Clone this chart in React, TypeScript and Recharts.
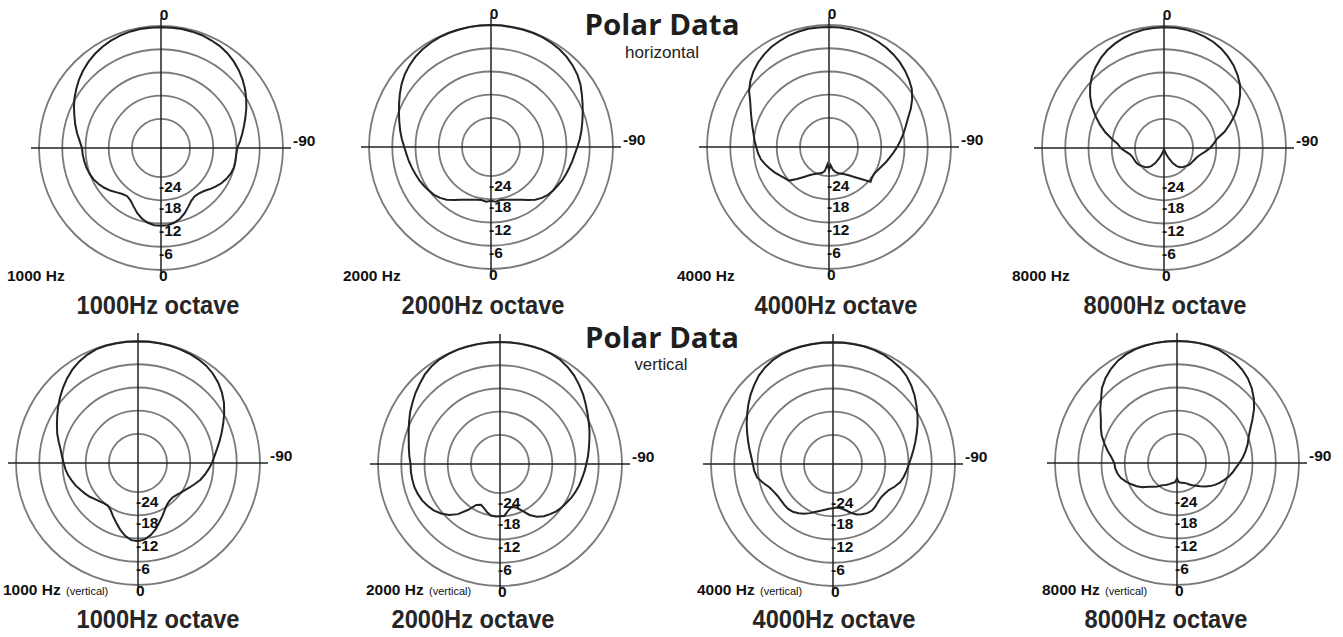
import { RadarChart, Radar, PolarGrid, PolarAngleAxis, PolarRadiusAxis } from "recharts";

// angle categories, clockwise from the top: right half negative, left half positive
const ANGLES = [
  0, -5, -10, -15, -20, -25, -30, -35, -40, -45, -50, -55, -60, -65, -70, -75, -80, -85,
  -90, -95, -100, -105, -110, -115, -120, -125, -130, -135, -140, -145, -150, -155, -160,
  -165, -170, -175, -180, 175, 170, 165, 160, 155, 150, 145, 140, 135, 130, 125, 120, 115,
  110, 105, 100, 95, 90, 85, 80, 75, 70, 65, 60, 55, 50, 45, 40, 35, 30, 25, 20, 15, 10, 5,
];

// level in dB for each angle above
const H1000 = [
  -0.3, -0.3, -0.3, -0.4, -0.5, -0.8, -1.1, -1.6, -2.3, -3.1, -4.0, -5.0,
  -6.1, -7.2, -8.3, -9.3, -10.2, -11.0, -11.8, -12.0, -12.0, -12.0, -12.3, -12.8,
  -13.4, -14.2, -15.0, -15.8, -16.2, -16.3, -15.8, -14.8, -13.6, -12.6, -11.9, -11.5,
  -11.4, -11.5, -11.9, -12.6, -13.6, -14.8, -15.8, -16.3, -16.0, -15.3, -14.4, -13.6,
  -12.9, -12.3, -11.9, -11.6, -11.4, -11.2, -11.1, -10.4, -9.5, -8.6, -7.7, -6.7,
  -5.7, -4.8, -3.9, -3.1, -2.4, -1.8, -1.3, -0.9, -0.6, -0.4, -0.3, -0.3,
];
const H2000 = [
  0, 0, -0.1, -0.1, -0.1, -0.2, -0.4, -0.7, -1.1, -1.7, -2.4, -3.3,
  -4.4, -5.4, -6.3, -7.1, -7.8, -8.5, -9.2, -9.8, -10.2, -10.6, -10.9, -11.2,
  -11.6, -11.9, -12.3, -12.9, -13.7, -14.8, -15.8, -16.5, -17.0, -17.4, -17.6, -17.3,
  -17.6, -17.3, -17.6, -17.4, -17.0, -16.5, -15.8, -14.8, -13.7, -12.9, -12.3, -11.9,
  -11.5, -11.1, -10.8, -10.4, -10.0, -9.6, -9.1, -8.4, -7.7, -7.0, -6.2, -5.3,
  -4.3, -3.3, -2.4, -1.7, -1.1, -0.7, -0.4, -0.2, -0.1, -0.1, 0, 0,
];
const H4000 = [
  -0.5, -0.5, -0.6, -0.8, -1.1, -1.5, -1.9, -2.4, -3.0, -3.7, -4.5, -5.4,
  -6.7, -8.2, -9.8, -11.0, -12.0, -13.0, -13.9, -14.8, -15.6, -16.3, -17.0, -17.5,
  -17.9, -17.9, -17.5, -19.8, -21.4, -22.6, -23.4, -23.9, -24.3, -24.8, -25.5, -26.8,
  -25.5, -27.0, -25.2, -24.6, -24.3, -23.9, -23.4, -22.6, -21.4, -19.8, -18.0, -17.5,
  -16.8, -16.0, -15.2, -14.4, -13.6, -13.1, -12.7, -12.2, -11.7, -11.0, -10.2, -9.2,
  -8.0, -6.3, -5.0, -3.9, -3.0, -2.3, -1.7, -1.3, -0.9, -0.7, -0.5, -0.5,
];
const H8000 = [
  -0.3, -0.3, -0.4, -0.6, -0.9, -1.3, -1.9, -2.7, -3.6, -4.7, -5.9, -7.5,
  -9.3, -11.3, -13.4, -15.3, -17.6, -18.6, -19.6, -20.8, -21.9, -22.6, -23.0, -23.3,
  -23.5, -23.8, -24.2, -24.6, -25.0, -25.8, -27.0, -28.6, -29.8, -30.5, -31.0, -31.2,
  -31.4, -31.2, -31.0, -30.5, -29.8, -28.6, -27.0, -25.8, -25.0, -24.6, -24.2, -23.8,
  -23.5, -23.3, -23.2, -23.0, -22.5, -21.5, -20.3, -19.5, -17.8, -15.8, -13.9, -12.0,
  -10.0, -8.2, -6.6, -5.2, -4.1, -3.1, -2.3, -1.7, -1.2, -0.8, -0.5, -0.4,
];
const V1000 = [
  -0.1, -0.1, -0.1, -0.1, -0.2, -0.3, -0.5, -0.8, -1.4, -2.2, -3.2, -4.4,
  -5.8, -7.2, -8.5, -9.7, -10.8, -11.7, -12.4, -13.2, -14.0, -14.8, -15.8, -16.7,
  -17.5, -18.1, -18.6, -18.9, -18.8, -18.4, -17.6, -16.5, -15.3, -13.8, -12.6, -11.7,
  -11.3, -11.5, -12.4, -13.7, -15.1, -16.3, -17.4, -18.0, -17.9, -17.5, -17.0, -16.3,
  -15.7, -15.1, -14.4, -13.8, -13.2, -12.7, -12.3, -11.8, -11.2, -10.3, -9.3, -8.4,
  -7.4, -6.3, -5.2, -4.1, -3.0, -2.0, -1.2, -0.6, -0.2, -0.1, -0.1, -0.1,
];
const V2000 = [
  0, 0, 0, 0, 0, -0.1, -0.4, -1.0, -1.7, -2.6, -3.5, -4.5,
  -5.4, -6.2, -6.9, -7.6, -8.2, -8.7, -9.2, -9.6, -10.0, -10.3, -10.7, -11.1,
  -11.6, -12.0, -12.5, -13.2, -13.9, -14.9, -16.3, -18.3, -19.6, -20.0, -19.3, -18.1,
  -18.0, -17.9, -18.0, -18.6, -19.4, -19.9, -19.3, -17.0, -14.6, -12.9, -11.6, -10.6,
  -9.9, -9.3, -8.9, -8.6, -8.5, -8.4, -8.4, -8.0, -7.6, -7.1, -6.4, -5.6,
  -4.7, -3.9, -3.0, -2.2, -1.3, -0.7, -0.3, -0.1, 0, 0, 0, 0,
];
const V4000 = [
  -0.1, -0.1, -0.1, -0.1, -0.2, -0.4, -0.8, -1.2, -1.9, -2.9, -4.0, -5.2,
  -6.3, -7.4, -8.5, -9.5, -10.4, -11.2, -11.9, -12.4, -12.9, -13.5, -14.5, -15.6,
  -16.1, -16.4, -16.3, -16.0, -15.8, -16.0, -16.5, -17.1, -18.1, -19.2, -19.9, -20.2,
  -20.1, -19.9, -19.5, -19.0, -18.4, -17.5, -16.7, -16.0, -15.4, -15.1, -15.1, -15.1,
  -15.0, -14.6, -14.0, -12.8, -11.6, -11.1, -10.8, -10.3, -9.6, -8.8, -7.9, -6.9,
  -5.9, -4.8, -3.7, -2.7, -1.7, -1.0, -0.5, -0.2, -0.1, -0.1, -0.1, -0.1,
];
const V8000 = [
  0, 0, 0, -0.1, -0.3, -0.8, -1.4, -2.1, -3.0, -4.2, -5.6, -7.2,
  -9.0, -10.6, -11.8, -12.6, -13.5, -14.4, -15.4, -16.3, -17.0, -17.7, -18.6, -19.4,
  -20.2, -21.1, -22.1, -23.0, -23.8, -24.5, -25.1, -25.7, -26.0, -26.2, -26.3, -26.6,
  -27.5, -26.6, -26.3, -26.1, -25.7, -25.3, -24.9, -24.4, -23.6, -22.8, -22.0, -20.6,
  -19.5, -18.5, -17.5, -16.5, -15.9, -15.5, -15.3, -14.5, -13.3, -12.1, -10.8, -9.8,
  -8.8, -7.3, -5.9, -4.1, -2.8, -1.8, -1.0, -0.5, -0.2, -0.1, 0, 0,
];

const RING_TICKS = [-24, -18, -12, -6, 0];
const FREQ_LABELS = ["1000 Hz", "2000 Hz", "4000 Hz", "8000 Hz"];
const OCTAVE_LABELS = ["1000Hz octave", "2000Hz octave", "4000Hz octave", "8000Hz octave"];

// radius axis runs past 0 dB so the crosshair sticks out beyond the outer ring
const DB_MIN = -31.5;
const DB_MAX = 2.07;

const FONT = "'Liberation Sans', Arial, Helvetica, sans-serif";
const W = 340;
const H = 300;

const TOP_ROW = [
  { values: H1000, cx: 161, cy: 148, freqX: 7, octaveX: 158 },
  { values: H2000, cx: 491, cy: 147, freqX: 343, octaveX: 483 },
  { values: H4000, cx: 829, cy: 147, freqX: 677, octaveX: 836 },
  { values: H8000, cx: 1164, cy: 148, freqX: 1012, octaveX: 1165 },
];
const BOTTOM_ROW = [
  { values: V1000, cx: 138, cy: 463, freqX: 3, octaveX: 158 },
  { values: V2000, cx: 500, cy: 464, freqX: 366, octaveX: 473 },
  { values: V4000, cx: 833, cy: 464, freqX: 697, octaveX: 834 },
  { values: V8000, cx: 1177, cy: 463, freqX: 1042, octaveX: 1166 },
];

const labelStyle = { fontFamily: FONT, fontWeight: 700, fontSize: 15.5, fill: "#111" };

function angleTick(showTopZero: boolean) {
  return (props: any) => {
    const { x, y, payload } = props;
    if (payload.value === 0 && showTopZero) {
      return (
        <text x={x + 3} y={y + 10} textAnchor="middle" {...labelStyle}>
          0
        </text>
      );
    }
    if (payload.value === -90) {
      return (
        <text x={x - 6} y={y - 2} textAnchor="start" {...labelStyle}>
          -90
        </text>
      );
    }
    return <g />;
  };
}

function radiusTick(props: any) {
  const { x, y, payload } = props;
  const dy = payload.value === -24 ? 15 : payload.value === 0 ? 11 : 12.5;
  return (
    <text x={x - 2} y={y + dy} textAnchor="start" {...labelStyle}>
      {String(payload.value)}
    </text>
  );
}

function PolarPanel({ values, cx, cy, showTopZero }: { values: number[]; cx: number; cy: number; showTopZero: boolean }) {
  const rows = ANGLES.map((angle, i) => ({ angle, level: values[i] }));
  return (
    <div style={{ position: "absolute", left: cx - W / 2, top: cy - H / 2, width: W, height: H }}>
      <RadarChart
        width={W}
        height={H}
        cx={W / 2}
        cy={H / 2}
        outerRadius={130}
        data={rows}
        margin={{ top: 0, right: 0, bottom: 0, left: 0 }}
      >
        <PolarGrid gridType="circle" radialLines={false} stroke="#7a7a7a" strokeWidth={1.8} />
        <PolarGrid
          gridType="circle"
          polarAngles={[0, 90, 180, 270]}
          polarRadius={[]}
          stroke="#222"
          strokeWidth={1.5}
        />
        <PolarAngleAxis dataKey="angle" axisLine={false} tickLine={false} tickSize={8} tick={angleTick(showTopZero)} />
        <PolarRadiusAxis
          angle={-90}
          type="number"
          domain={[DB_MIN, DB_MAX]}
          ticks={RING_TICKS}
          axisLine={false}
          tickLine={false}
          tick={radiusTick}
        />
        <Radar
          dataKey="level"
          stroke="#222"
          strokeWidth={2}
          fill="none"
          fillOpacity={0}
          dot={false}
          isAnimationActive={false}
        />
      </RadarChart>
    </div>
  );
}

export default function App() {
  return (
    <div
      style={{
        position: "absolute",
        left: 0,
        top: 0,
        width: 1343,
        height: 637,
        background: "#fff",
        overflow: "hidden",
      }}
    >
      <svg width={1343} height={637} style={{ position: "absolute", left: 0, top: 0 }}>
        <text
          x={662}
          y={35}
          textAnchor="middle"
          fontFamily="'Open Sans', sans-serif"
          fontWeight={700}
          fontSize={28}
          textLength={155}
          lengthAdjust="spacingAndGlyphs"
          fill="#1e1e1e"
        >
          Polar Data
        </text>
        <text x={662} y={58} textAnchor="middle" fontFamily={FONT} fontSize={17} textLength={74} lengthAdjust="spacingAndGlyphs" fill="#222">
          horizontal
        </text>
        <text
          x={662}
          y={348}
          textAnchor="middle"
          fontFamily="'Open Sans', sans-serif"
          fontWeight={700}
          fontSize={28}
          textLength={154}
          lengthAdjust="spacingAndGlyphs"
          fill="#1e1e1e"
        >
          Polar Data
        </text>
        <text x={661} y={370} textAnchor="middle" fontFamily={FONT} fontSize={17} textLength={53} lengthAdjust="spacingAndGlyphs" fill="#222">
          vertical
        </text>

        {TOP_ROW.map((p, i) => (
          <g key={"t" + i}>
            <text x={p.freqX} y={281} {...labelStyle}>
              {FREQ_LABELS[i]}
            </text>
            <text
              x={p.octaveX}
              y={314}
              textAnchor="middle"
              fontFamily={FONT}
              fontWeight={700}
              fontSize={26}
              textLength={163}
              lengthAdjust="spacingAndGlyphs"
              fill="#262626"
            >
              {OCTAVE_LABELS[i]}
            </text>
          </g>
        ))}
        {BOTTOM_ROW.map((p, i) => (
          <g key={"b" + i}>
            <text x={p.freqX} y={595} {...labelStyle}>
              {FREQ_LABELS[i]}
            </text>
            <text x={p.freqX + 63} y={595} fontFamily={FONT} fontSize={11} fill="#111">
              (vertical)
            </text>
            <text
              x={p.octaveX}
              y={628}
              textAnchor="middle"
              fontFamily={FONT}
              fontWeight={700}
              fontSize={26}
              textLength={163}
              lengthAdjust="spacingAndGlyphs"
              fill="#262626"
            >
              {OCTAVE_LABELS[i]}
            </text>
          </g>
        ))}
      </svg>

      {TOP_ROW.map((p, i) => (
        <PolarPanel key={"tp" + i} values={p.values} cx={p.cx} cy={p.cy} showTopZero={true} />
      ))}
      {BOTTOM_ROW.map((p, i) => (
        <PolarPanel key={"bp" + i} values={p.values} cx={p.cx} cy={p.cy} showTopZero={false} />
      ))}
    </div>
  );
}
